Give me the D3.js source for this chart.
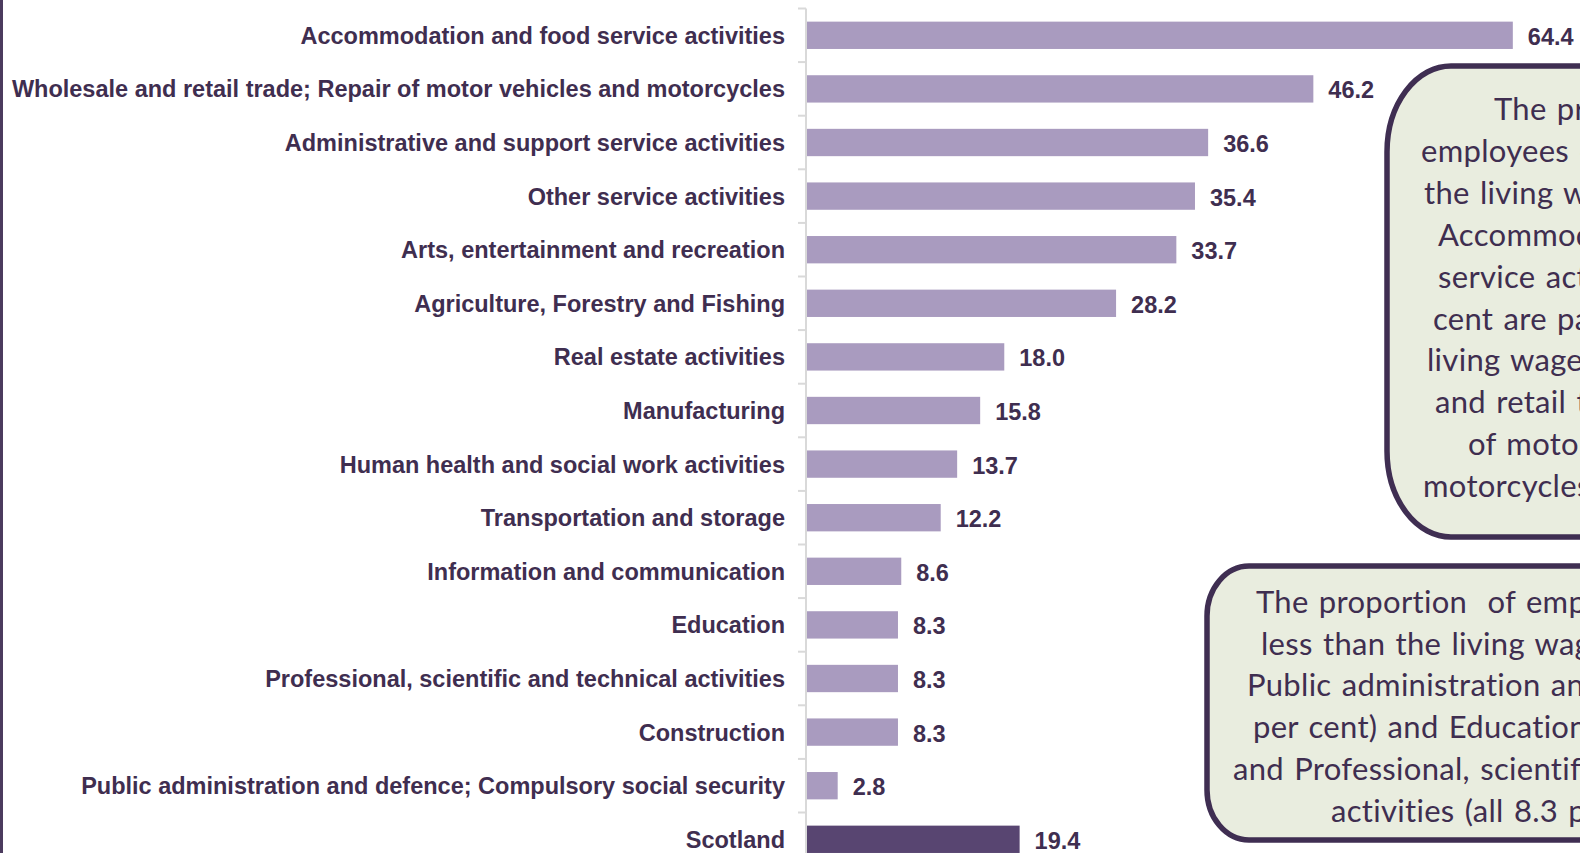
<!DOCTYPE html>
<html>
<head>
<meta charset="utf-8">
<script src="https://cdn.jsdelivr.net/npm/d3@7"></script>
<style>
  html, body { margin: 0; padding: 0; background: #ffffff; overflow: hidden; }
  svg { display: block; }
  .cat { font-family: "Liberation Sans", Arial, sans-serif; font-weight: bold; font-size: 23.5px; fill: #3f2e50; }
  .val { font-family: "Liberation Sans", Arial, sans-serif; font-weight: bold; font-size: 23.5px; fill: #3f2e50; }
  .note { font-family: Lato, "Open Sans", sans-serif; font-size: 31px; letter-spacing: 0.3px; word-spacing: 2px; fill: #3f2e50; white-space: pre; }
</style>
</head>
<body>
<svg id="chart" width="1580" height="853"></svg>
<script>
// Share of employees paid less than the living wage, by industry (per cent)
const categories = [
  "Accommodation and food service activities",
  "Wholesale and retail trade; Repair of motor vehicles and motorcycles",
  "Administrative and support service activities",
  "Other service activities",
  "Arts, entertainment and recreation",
  "Agriculture, Forestry and Fishing",
  "Real estate activities",
  "Manufacturing",
  "Human health and social work activities",
  "Transportation and storage",
  "Information and communication",
  "Education",
  "Professional, scientific and technical activities",
  "Construction",
  "Public administration and defence; Compulsory social security",
  "Scotland"
];
const values = [64.4, 46.2, 36.6, 35.4, 33.7, 28.2, 18.0, 15.8, 13.7, 12.2, 8.6, 8.3, 8.3, 8.3, 2.8, 19.4];
const highlight = "Scotland";

// Callout texts, one entry per line
const noteHighest = [
  "The proportion of",
  "employees earning less than",
  "the living wage is highest in",
  "Accommodation and food",
  "service activities (64.4 per",
  "cent are paid less than the",
  "living wage) and Wholesale",
  "and retail trade; Repair",
  "of motor vehicles and",
  "motorcycles (46.2 per cent)."
];
const noteLowest = [
  "The proportion  of employees earning",
  "less than the living wage is lowest in",
  "Public administration and defence (2.8",
  "per cent) and Education, Construction",
  "and Professional, scientific and technical",
  "activities (all 8.3 per cent)."
];

const svg = d3.select("#chart");
const data = categories.map((c, i) => ({ cat: c, v: values[i] }));

const x = d3.scaleLinear().domain([0, 100]).range([807, 1903]);
const y = d3.scaleBand().domain(categories).range([8.5, 866.1])
  .paddingInner(0.49).paddingOuter(0.245);
const step = y.step();
const y0 = y.range()[0];

// frame line on the left edge
svg.append("rect").attr("x", 0).attr("y", 0).attr("width", 3).attr("height", 853)
  .attr("fill", "#4b3b5e");

// category axis: vertical line with ticks between categories
const axis = svg.append("g");
axis.append("line")
  .attr("x1", 806).attr("x2", 806)
  .attr("y1", y0).attr("y2", y0 + step * categories.length)
  .attr("stroke", "#d9d9d9").attr("stroke-width", 2);
axis.selectAll("line.tick")
  .data(d3.range(categories.length + 1))
  .join("line").attr("class", "tick")
  .attr("x1", 798).attr("x2", 806)
  .attr("y1", i => y0 + i * step).attr("y2", i => y0 + i * step)
  .attr("stroke", "#d9d9d9").attr("stroke-width", 2);

// bars
svg.append("g").selectAll("rect")
  .data(data)
  .join("rect")
  .attr("x", x(0))
  .attr("y", d => y(d.cat))
  .attr("width", d => x(d.v) - x(0))
  .attr("height", y.bandwidth())
  .attr("fill", d => d.cat === highlight ? "#584571" : "#a99bbf");

// category labels
svg.append("g").selectAll("text")
  .data(data)
  .join("text")
  .attr("class", "cat")
  .attr("x", 785)
  .attr("y", d => y(d.cat) + y.bandwidth() / 2)
  .attr("dy", "0.36em")
  .attr("text-anchor", "end")
  .text(d => d.cat);

// value labels
const fmt = d3.format(".1f");
svg.append("g").selectAll("text")
  .data(data)
  .join("text")
  .attr("class", "val")
  .attr("x", d => x(d.v) + 15)
  .attr("y", d => y(d.cat) + y.bandwidth() / 2)
  .attr("dy", "0.4em")
  .text(d => fmt(d.v));

// callout boxes
function callout(box, lines, starts, firstBaseline, lineGap) {
  const g = svg.append("g");
  g.append("rect")
    .attr("x", box.x).attr("y", box.y)
    .attr("width", box.w).attr("height", box.h)
    .attr("rx", box.rx).attr("ry", box.ry)
    .attr("fill", "#e9eddf")
    .attr("stroke", "#3f2e52").attr("stroke-width", 5.5);
  g.selectAll("text")
    .data(lines)
    .join("text")
    .attr("class", "note")
    .attr("x", (d, i) => starts[i])
    .attr("y", (d, i) => firstBaseline + i * lineGap)
    .text(d => d);
}

callout({ x: 1387, y: 66, w: 420, h: 471, rx: 64, ry: 86 }, noteHighest,
  [1494, 1421, 1424, 1438, 1438, 1433, 1427, 1435, 1468, 1423], 120, 41.9);
callout({ x: 1207, y: 566, w: 560, h: 274, rx: 42, ry: 50 }, noteLowest,
  [1256, 1261, 1247, 1253, 1233, 1331], 613, 41.7);
</script>
</body>
</html>
